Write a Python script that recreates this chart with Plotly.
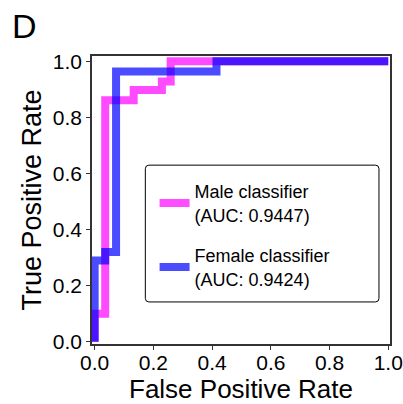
import plotly.graph_objects as go

# Male classifier ROC (step points)
male_fpr = [0.0, 0.0, 0.036, 0.036, 0.133, 0.133, 0.229, 0.229, 0.259, 0.259, 1.0]
male_tpr = [0.0, 0.10, 0.10, 0.861, 0.861, 0.898, 0.898, 0.928, 0.928, 1.0, 1.0]
# Female classifier ROC (step points)
female_fpr = [0.0, 0.0, 0.036, 0.036, 0.073, 0.073, 0.415, 0.415, 1.0]
female_tpr = [0.0, 0.29, 0.29, 0.32, 0.32, 0.964, 0.964, 1.0, 1.0]

male_label = "Male classifier<br>(AUC: 0.9447)"
female_label = "Female classifier<br>(AUC: 0.9424)"
tick_vals = [0.0, 0.2, 0.4, 0.6, 0.8, 1.0]
tick_text = ["0.0", "0.2", "0.4", "0.6", "0.8", "1.0"]

FONT = "Arial, Liberation Sans, sans-serif"

fig = go.Figure()
fig.add_trace(go.Scatter(x=male_fpr, y=male_tpr, mode="lines", name=male_label,
                         legendgroup="male",
                         line=dict(color="#ff00ff", width=8), opacity=0.7))
fig.add_trace(go.Scatter(x=female_fpr, y=female_tpr, mode="lines", name=female_label,
                         legendgroup="female",
                         line=dict(color="#0000ff", width=8), opacity=0.7))

axis_common = dict(showgrid=False, zeroline=False, showline=True, linecolor="#333333",
                   linewidth=1.5, mirror=True, ticks="outside", ticklen=4, tickwidth=1.2,
                   tickcolor="#333333", tickvals=tick_vals, ticktext=tick_text,
                   automargin=False, ticklabeloverflow="allow",
                   tickfont=dict(family=FONT, size=21, color="black"))

fig.update_xaxes(range=[-0.009, 1.006], ticklabelstandoff=-5,
                 title=dict(text="False Positive Rate",
                            font=dict(family=FONT, size=26, color="black"), standoff=2),
                 **axis_common)
fig.update_yaxes(range=[-0.008, 1.019], title=dict(text="True Positive Rate",
                 font=dict(family=FONT, size=27, color="black"), standoff=3), **axis_common)

# rounded legend frame
x0, x1, y0, y1, r = 0.179, 0.963, 0.146, 0.621, 0.012
ry = r * 298.3 / 288.3
path = (f"M {x0+r},{y0} L {x1-r},{y0} Q {x1},{y0} {x1},{y0+ry} L {x1},{y1-ry} "
        f"Q {x1},{y1} {x1-r},{y1} L {x0+r},{y1} Q {x0},{y1} {x0},{y1-ry} "
        f"L {x0},{y0+ry} Q {x0},{y0} {x0+r},{y0} Z")
fig.add_shape(type="path", path=path, xref="paper", yref="paper",
              line=dict(color="black", width=1), fillcolor="rgba(255,255,255,0.8)", layer="below")

fig.add_annotation(text="D", x=-0.225, y=1.103, xref="paper", yref="paper",
                   xanchor="center", yanchor="middle", showarrow=False,
                   font=dict(family=FONT, size=34, color="black"))

fig.update_layout(
    width=403, height=404,
    margin=dict(l=92, r=13, t=56, b=60, autoexpand=False),
    paper_bgcolor="white", plot_bgcolor="white",
    showlegend=True,
    legend=dict(x=0.21, y=0.593, xanchor="left", yanchor="top",
                bgcolor="rgba(0,0,0,0)", borderwidth=0,
                font=dict(family=FONT, size=18, color="black"),
                tracegroupgap=14, itemwidth=30),
)

# remove the default page margin so the figure fills the window exactly
fig.write_html("out.html", config={"displayModeBar": False},
               post_script="document.body.style.margin='0';document.body.style.overflow='hidden';")
